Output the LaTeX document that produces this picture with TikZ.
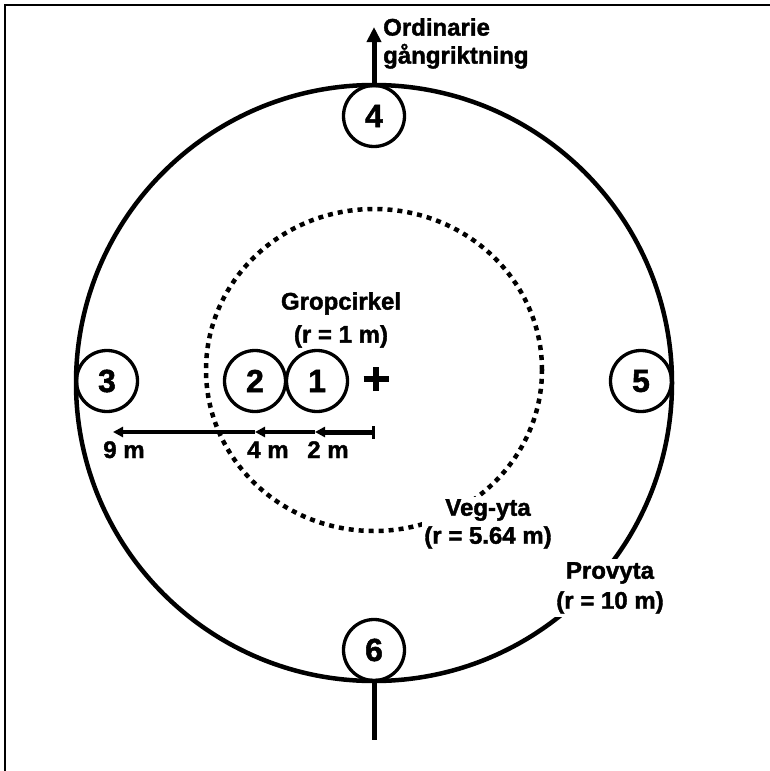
\documentclass[tikz,border=0pt]{standalone}
\usepackage{fontspec}
\setmainfont{Liberation Sans}[BoldFeatures={FakeBold=1.6}]
\usetikzlibrary{arrows.meta}
\begin{document}
\begin{tikzpicture}[x=1pt,y=-1pt,
  lbl/.style={font=\fontsize{24}{29}\selectfont\bfseries, inner sep=0pt, align=center},
  num/.style={circle, draw, line width=3.3pt, minimum size=61pt, inner sep=0pt, font=\fontsize{32}{32}\selectfont\bfseries},
  bigc/.style={line width=4.5pt},
  dotc/.style={line width=4.5pt, dash pattern=on 5pt off 5pt},
  frame/.style={line width=2.5pt},
  stem/.style={line width=5pt},
  tip/.style={-{Triangle[length=10pt,width=10pt]}},
  thinarr/.style={line width=3.5pt},
  thickarr/.style={line width=5pt}]
\useasboundingbox (0,0) rectangle (770,771);
% frame
\coordinate (fbl) at (5,771);
\coordinate (ftl) at (5,5);
\coordinate (ftr) at (770,5);
\draw[frame] (fbl) -- (ftl) -- (ftr);
% circles
\coordinate (O) at (374,383);
\draw[bigc] (O) circle[radius=298pt];
\coordinate (V) at (374,370);
\draw[dotc] (V) ellipse[x radius=168pt, y radius=161pt];
% numbered circles
\node[num] (c4) at (374,116) {4};
\node[num] (c6) at (374,650) {6};
\node[num] (c3) at (107,381) {3};
\node[num] (c5) at (641,381) {5};
\node[num] (c2) at (255,381) {2};
\node[num] (c1) at (317,381) {1};
% plus
\coordinate (ctr) at (376,379);
\draw[line width=5.5pt] ([xshift=-12.5pt]ctr) -- ([xshift=12.5pt]ctr);
\draw[line width=5.5pt] ([yshift=-12pt]ctr) -- ([yshift=12pt]ctr);
% walking direction
\coordinate (topTip) at (374,27);
\draw[stem, -{Triangle[length=15pt,width=14pt]}] (c4.north) -- (topTip);
\coordinate (botEnd) at (374,740);
\draw[stem] (c6.south) -- (botEnd);
% distance arrows
\coordinate (m0) at (373,432);
\coordinate (m2) at (315,432);
\coordinate (m4) at (255,432);
\coordinate (m9) at (113,432);
\draw[line width=3pt] ([yshift=-6.5pt]m0) -- ([yshift=6.5pt]m0);
\draw[thickarr, tip] (m0) -- (m2);
\draw[thinarr, tip] (m2) -- (m4);
\draw[thinarr, tip] (m4) -- (m9);
\node[lbl, anchor=base] (l9) at (124,458) {9 m};
\node[lbl, anchor=base] (l4) at (268,458) {4 m};
\node[lbl, anchor=base] (l2) at (328,458) {2 m};
% labels
\node[lbl, align=left, anchor=north west, font=\fontsize{24}{28}\selectfont\bfseries] (dir) at (383,18) {Ordinarie\\gångriktning};
\node[lbl, anchor=north, font=\fontsize{24}{33}\selectfont\bfseries] (grop) at (341,292) {Gropcirkel\\(r = 1 m)};
\node[lbl, anchor=north, fill=white, inner sep=2pt, font=\fontsize{24}{28}\selectfont\bfseries] (veg) at (488,497) {Veg-yta\\(r = 5.64 m)};
\node[lbl, anchor=north, fill=white, inner sep=3pt, font=\fontsize{24}{30}\selectfont\bfseries] (prov) at (610,559) {Provyta\\(r = 10 m)};
\end{tikzpicture}
\end{document}
